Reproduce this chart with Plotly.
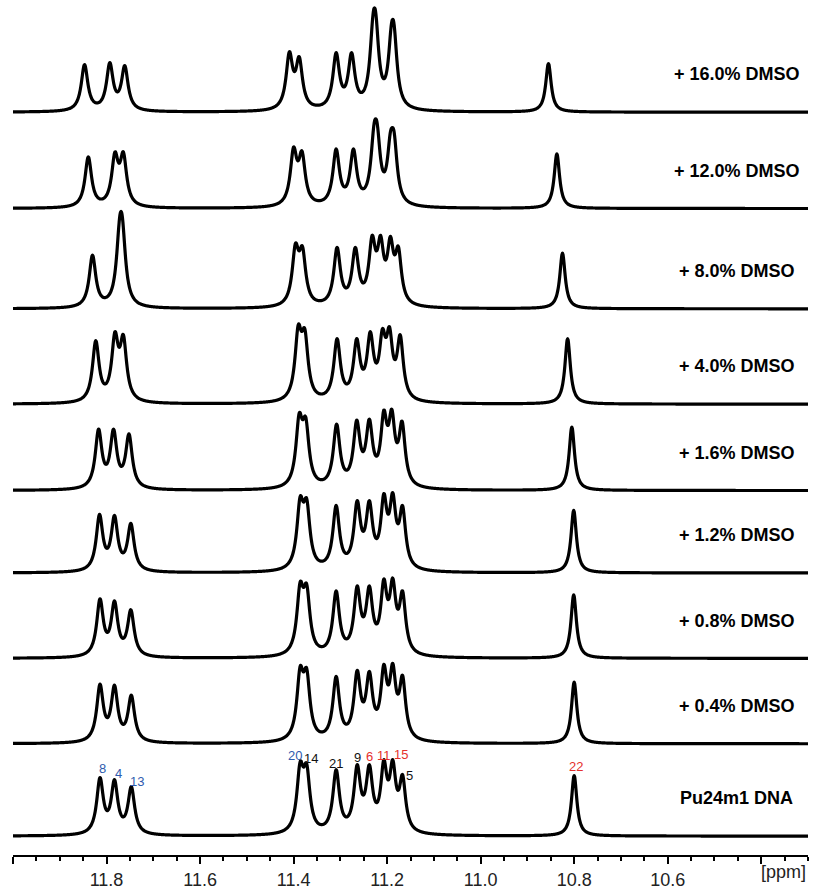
import numpy as np
import plotly.graph_objects as go

# Spectra, listed from the bottom of the stack to the top
samples = ["Pu24m1 DNA", "+ 0.4% DMSO", "+ 0.8% DMSO", "+ 1.2% DMSO", "+ 1.6% DMSO",
           "+ 4.0% DMSO", "+ 8.0% DMSO", "+ 12.0% DMSO", "+ 16.0% DMSO"]

# Baseline offset of each spectrum in the stack (intensity units)
offsets = [19, 112, 198, 284, 367, 454, 550, 651, 748]

# Imino proton assignments, in the column order of the peak tables
residues = ["8", "4", "13", "20", "14", "21", "9", "6", "11", "15", "5", "22"]

# Half width at half height of each resonance (ppm)
half_widths = [0.0085, 0.0085, 0.0085, 0.0085, 0.0085, 0.0085,
               0.0085, 0.0085, 0.0080, 0.0080, 0.0080, 0.0070]

# Chemical shift of every resonance (ppm), one row per spectrum
shift_rows = [
    [11.814, 11.783, 11.747, 11.386, 11.372, 11.309, 11.264, 11.238, 11.207, 11.188, 11.167, 10.800],
    [11.814, 11.783, 11.747, 11.386, 11.372, 11.309, 11.264, 11.238, 11.207, 11.188, 11.167, 10.800],
    [11.814, 11.783, 11.748, 11.386, 11.372, 11.309, 11.264, 11.238, 11.207, 11.188, 11.167, 10.801],
    [11.815, 11.783, 11.748, 11.386, 11.372, 11.309, 11.264, 11.238, 11.207, 11.188, 11.167, 10.801],
    [11.817, 11.785, 11.752, 11.388, 11.374, 11.308, 11.265, 11.238, 11.207, 11.190, 11.168, 10.805],
    [11.823, 11.782, 11.764, 11.390, 11.376, 11.307, 11.265, 11.236, 11.210, 11.195, 11.172, 10.814],
    [11.830, 11.772, 11.766, 11.396, 11.381, 11.307, 11.268, 11.232, 11.214, 11.193, 11.176, 10.825],
    [11.839, 11.782, 11.764, 11.400, 11.382, 11.309, 11.272, 11.228, 11.221, 11.193, 11.185, 10.837],
    [11.847, 11.793, 11.761, 11.409, 11.388, 11.309, 11.276, 11.230, 11.224, 11.191, 11.185, 10.855],
]

# Observed peak height of every resonance above its baseline, one row per spectrum
height_rows = [
    [59, 57, 50, 75, 73, 67, 72, 72, 77, 77, 62, 61],
    [60, 59, 49, 78, 76, 68, 74, 73, 80, 81, 69, 62],
    [60, 58, 49, 77, 75, 68, 73, 73, 80, 81, 68, 64],
    [59, 58, 50, 77, 75, 68, 73, 73, 80, 81, 68, 63],
    [62, 62, 57, 78, 74, 67, 71, 72, 81, 82, 70, 64],
    [64, 73, 70, 80, 76, 66, 66, 73, 76, 78, 70, 66],
    [54, 92, 92, 66, 63, 62, 62, 74, 74, 73, 63, 56],
    [52, 57, 57, 62, 58, 60, 60, 85, 85, 77, 77, 55],
    [48, 50, 47, 61, 56, 60, 60, 99, 99, 88, 88, 49],
]

# Assignment labels on the reference spectrum: (text, ppm, height, colour)
label_text = ["8", "4", "13", "20", "14", "21", "9", "6", "11", "15", "5", "22"]
label_ppm = [11.808, 11.775, 11.734, 11.397, 11.363, 11.309, 11.264, 11.238, 11.206, 11.170, 11.152, 10.797]
label_y = [87, 82, 74, 100, 97, 92, 98, 99, 100, 101, 80, 89]
label_color = ["blue", "blue", "blue", "blue", "black", "black", "black",
               "red", "red", "red", "black", "red"]

# Axis ticks
tick_vals = [12.0, 11.8, 11.6, 11.4, 11.2, 11.0, 10.8, 10.6, 10.4]
tick_text = ["", "11.8", "11.6", "11.4", "11.2", "11.0", "10.8", "10.6", ""]

palette = {"blue": "#2F5BAE", "red": "#E5302C", "black": "#111111"}

ppm = np.linspace(12.0, 10.3, 1701)


def lorentz(d, g):
    return 1.0 / (1.0 + (d / g) ** 2)


fig = go.Figure()

for name, base, pos, hgt in zip(samples, offsets, shift_rows, height_rows):
    pos = np.array(pos)
    g = np.array(half_widths)
    # amplitudes chosen so the summed lineshape reaches the listed heights
    m = lorentz(pos[:, None] - pos[None, :], g[None, :])
    amp = np.linalg.solve(m, np.array(hgt, dtype=float))
    spec = base + (amp[None, :] * lorentz(ppm[:, None] - pos[None, :], g[None, :])).sum(axis=1)
    fig.add_trace(go.Scatter(x=ppm, y=spec, mode="lines", name=name,
                             line=dict(color="black", width=3.2, shape="spline"),
                             hoverinfo="skip", showlegend=False))
    fig.add_annotation(x=10.452, y=base + 38, text="<b>%s</b>" % name, showarrow=False,
                       font=dict(family="Liberation Sans, Arial", size=18, color="black"),
                       xanchor="center", yanchor="middle")

for t, xp, yp, c in zip(label_text, label_ppm, label_y, label_color):
    fig.add_annotation(x=xp, y=yp, text=t, showarrow=False,
                       font=dict(family="Liberation Sans, Arial", size=13, color=palette[c]),
                       xanchor="center", yanchor="middle")

fig.add_annotation(xref="paper", yref="paper", x=1.0, y=0, text="[ppm]", showarrow=False,
                   font=dict(family="Liberation Sans, Arial", size=18, color="#222222"),
                   xanchor="right", yanchor="top", yshift=-5)

fig.update_layout(
    width=822, height=890,
    margin=dict(l=13, r=14, t=0, b=29),
    paper_bgcolor="white", plot_bgcolor="white",
    xaxis=dict(range=[12.0, 10.3], showgrid=False, zeroline=False,
               showline=True, linecolor="black", linewidth=2,
               ticks="outside", ticklen=7, tickwidth=2, tickcolor="black",
               tickmode="array", tickvals=tick_vals, ticktext=tick_text,
               tickfont=dict(family="Liberation Sans, Arial", size=18, color="#222222"),
               minor=dict(tickmode="linear", tick0=0, dtick=0.05, ticks="outside",
                          ticklen=4, tickwidth=2, tickcolor="black")),
    yaxis=dict(range=[0, 861], visible=False, showgrid=False, zeroline=False),
)

fig.write_html("out.html")
